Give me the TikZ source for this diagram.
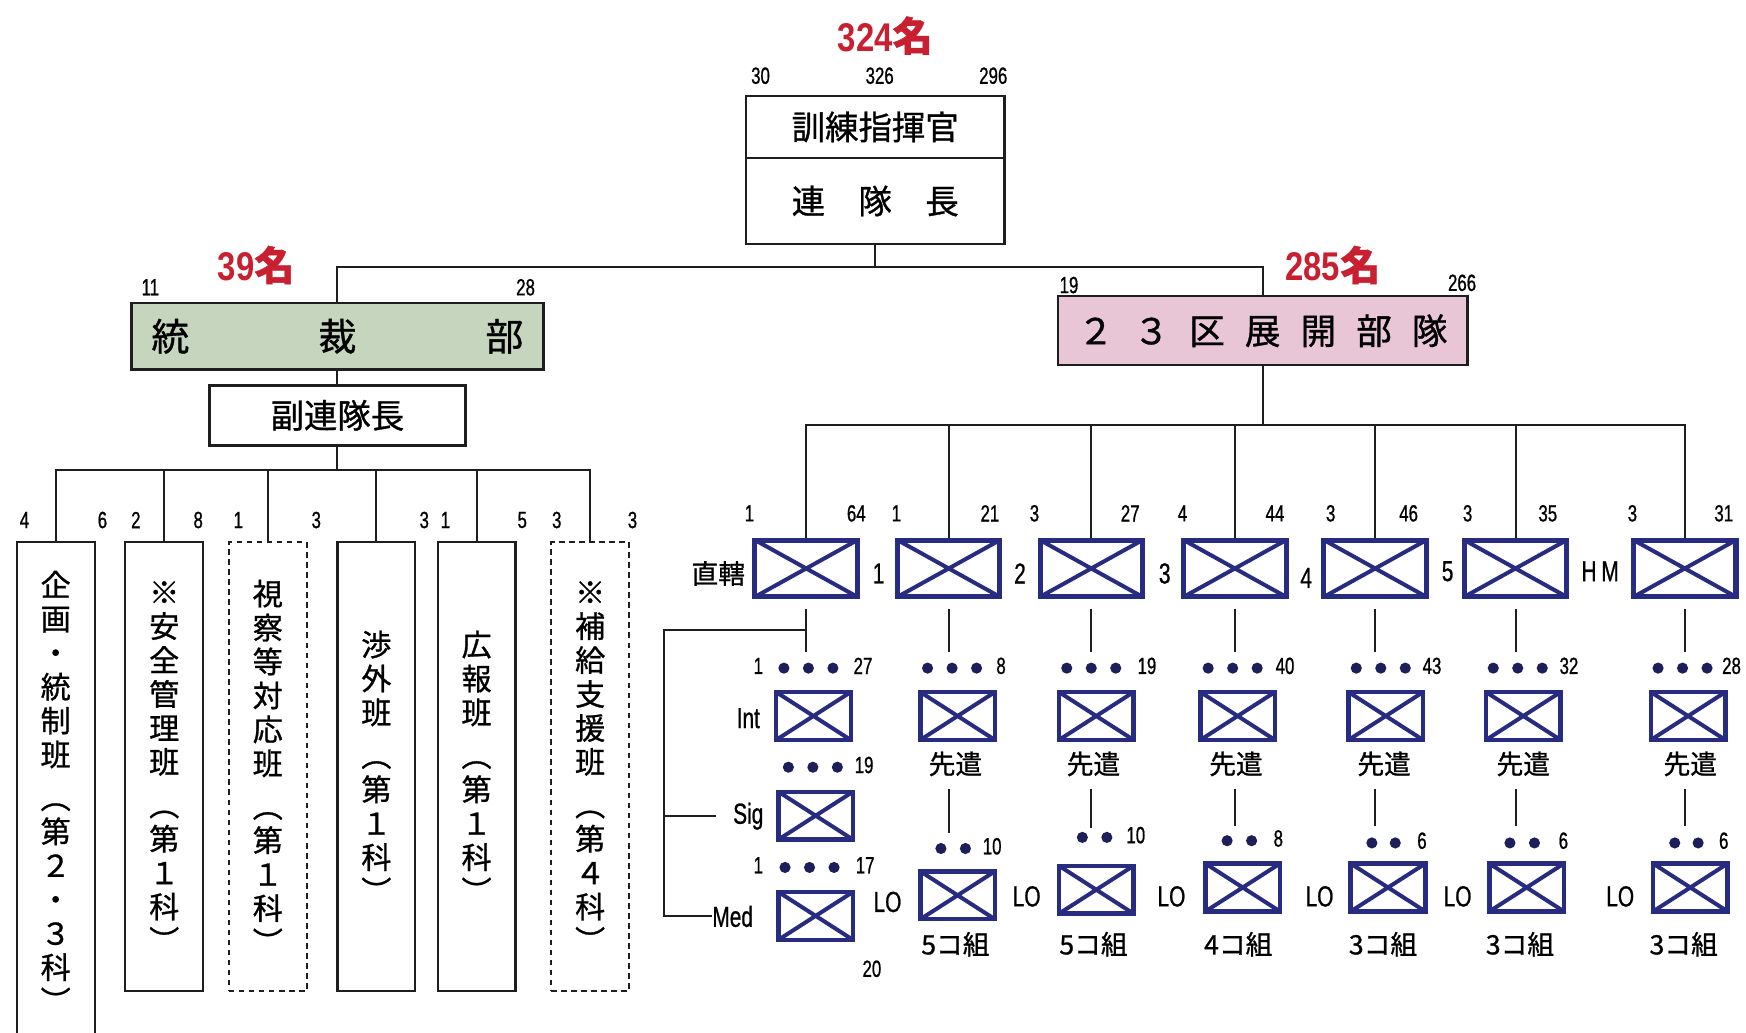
\documentclass[tikz,border=0pt]{standalone}
\usepackage{fontspec}
\setmainfont{Noto Sans CJK JP}[FakeBold=0.9]
\newfontfamily\NumFont[FakeStretch=0.72,FakeBold=0.8]{Liberation Sans}
\newfontfamily\CntFont[FakeStretch=0.82]{Liberation Sans}
\usepackage{tikz}
\usetikzlibrary{positioning}
\usepackage{xcolor}
\definecolor{ColRed}{RGB}{200,32,48}
\definecolor{ColUnit}{RGB}{40,44,128}
\definecolor{ColGreen}{RGB}{198,214,190}
\definecolor{ColPink}{RGB}{232,198,214}
\definecolor{ColLine}{RGB}{30,30,30}
\tikzstyle{BoxOrg}=[draw=ColLine,line width=2.2pt,inner sep=0pt,font=\fontsize{30}{30}\selectfont]
\tikzstyle{BoxSec}=[draw=ColLine,line width=2pt,inner sep=0pt,minimum width=70pt,
minimum height=403pt,align=center,font=\fontsize{27}{30.5}\selectfont]
\tikzstyle{BoxSecDash}=[BoxSec,line width=1.6pt,dash pattern=on 5pt off 4pt]
\tikzstyle{BoxUnit}=[draw=ColUnit,line width=4.5pt,minimum width=92pt,minimum height=51pt,inner sep=0pt,
path picture={\draw[ColUnit,line width=3.6pt](path picture bounding box.north west)--(path picture bounding box.south east)
(path picture bounding box.south west)--(path picture bounding box.north east);}]
\tikzstyle{BoxSub}=[BoxUnit,line width=4pt,minimum width=67pt,minimum height=43pt]
\tikzstyle{LineOrg}=[ColLine,line width=1.8pt]
\tikzstyle{LblCnt}=[text=ColRed,inner sep=0pt,font=\bfseries\fontsize{36}{36}\selectfont]
\tikzstyle{LblNum}=[inner sep=0pt,font=\NumFont\fontsize{21}{21}\selectfont]
\tikzstyle{LblUnit}=[inner sep=0pt,font=\NumFont\fontsize{26}{26}\selectfont]
\tikzstyle{LblJp}=[inner sep=0pt,font=\fontsize{24}{24}\selectfont]
\tikzstyle{DotUnit}=[ColUnit!70!black]

\begin{document}
\begin{tikzpicture}[x=1pt,y=-1pt]
    \useasboundingbox (0,0) rectangle (1568,927);
    % top
    \node[LblCnt](cAll)at(795,32){{\CntFont 324}名};
    \node[LblNum](nA1)at(683,68){30};
    \node[LblNum](nA2)at(790,68){326};
    \node[LblNum](nA3)at(892,68){296};
    \node[BoxOrg,minimum width=232pt,minimum height=56pt](cmd)at(786,114){訓練指揮官};
    \node[BoxOrg,minimum width=232pt,minimum height=77pt](reg)at(786,180.5){連　隊　長};
    \coordinate(jTop)at(786,240);
    % left branch
    \node[LblCnt](cL)at(230,238){{\CntFont 39}名};
    \node[LblNum](nB1)at(135,258){11};
    \node[LblNum](nB2)at(472,258){28};
    \node[BoxOrg,fill=ColGreen,minimum width=370pt,minimum height=60pt,font=\fontsize{34}{34}\selectfont](toubu)at(303,302){統\hspace{116pt}裁\hspace{116pt}部};
    \node[BoxOrg,minimum width=230pt,minimum height=54pt](fuku)at(303,373){副連隊長};
    \coordinate(jL)at(303,422);
    \node[BoxSec,minimum height=448pt](k1)at(50,711){企\\画\\・\\統\\制\\班\\[8pt]︵\\第\\２\\・\\３\\科\\︶};
    \node[BoxSec](k2)at(147.5,688.5){※\\安\\全\\管\\理\\班\\[8pt]︵\\第\\１\\科\\︶};
    \node[BoxSecDash](k3)at(240.5,688.5){視\\察\\等\\対\\応\\班\\[8pt]︵\\第\\１\\科\\︶};
    \node[BoxSec](k4)at(338,688.5){渉\\外\\班\\[8pt]︵\\第\\１\\科\\︶};
    \node[BoxSec](k5)at(428,688.5){広\\報\\班\\[8pt]︵\\第\\１\\科\\︶};
    \node[BoxSecDash](k6)at(530,688.5){※\\補\\給\\支\\援\\班\\[8pt]︵\\第\\４\\科\\︶};
    \node[LblNum](nK1a)at(22,467){4};
    \node[LblNum](nK1b)at(92,467){6};
    \node[LblNum](nK2a)at(122,467){2};
    \node[LblNum](nK2b)at(178,467){8};
    \node[LblNum](nK3a)at(214,467){1};
    \node[LblNum](nK3b)at(284,467){3};
    \node[LblNum](nK4b)at(381,467){3};
    \node[LblNum](nK5a)at(400,467){1};
    \node[LblNum](nK5b)at(469,467){5};
    \node[LblNum](nK6a)at(500,467){3};
    \node[LblNum](nK6b)at(568,467){3};
    % right branch
    \node[LblCnt](cR)at(1197,238){{\CntFont 285}名};
    \node[LblNum](nC1)at(960,256){19};
    \node[LblNum](nC2)at(1313,254){266};
    \node[BoxOrg,fill=ColPink,minimum width=368pt,minimum height=62pt,font=\fontsize{32}{32}\selectfont](tenkai)at(1134,297){２\hspace{18pt}３\hspace{18pt}区\hspace{18pt}展\hspace{18pt}開\hspace{18pt}部\hspace{18pt}隊};
    \coordinate(jR)at(1134,382);
    % units
    \node[BoxUnit](u0)at(724,510.5){};
    \node[BoxUnit](u1)at(852,510.5){};
    \node[BoxUnit](u2)at(980,510.5){};
    \node[BoxUnit](u3)at(1109,510.5){};
    \node[BoxUnit](u4)at(1235,510.5){};
    \node[BoxUnit](u5)at(1361,510.5){};
    \node[BoxUnit](u6)at(1513,510.5){};
    \node[LblJp](lU0)at(645,515){直轄};
    \node[LblUnit](lU1)at(789,515){1};
    \node[LblUnit](lU2)at(916,515){2};
    \node[LblUnit](lU3)at(1046,515){3};
    \node[LblUnit](lU4)at(1173,519){4};
    \node[LblUnit](lU5)at(1300,513){5};
    \node[LblUnit](lU6)at(1437,513){H\,M};
    \node[LblNum](nU0a)at(673,461){1};
    \node[LblNum](nU0b)at(769,461){64};
    \node[LblNum](nU1a)at(805,461){1};
    \node[LblNum](nU1b)at(889,461){21};
    \node[LblNum](nU2a)at(929,461){3};
    \node[LblNum](nU2b)at(1015,461){27};
    \node[LblNum](nU3a)at(1062,461){4};
    \node[LblNum](nU3b)at(1145,461){44};
    \node[LblNum](nU4a)at(1195,461){3};
    \node[LblNum](nU4b)at(1265,461){46};
    \node[LblNum](nU5a)at(1318,461){3};
    \node[LblNum](nU5b)at(1390,461){35};
    \node[LblNum](nU6a)at(1466,461){3};
    \node[LblNum](nU6b)at(1548,461){31};
    % sub units
    \node[BoxSub](sInt)at(730.5,643){};
    \node[BoxSub](sSig)at(732.5,732.5){};
    \node[BoxSub](sMed)at(732.5,822.5){};
    \node[BoxSub](s1)at(860,643){};
    \node[BoxSub](s2)at(984.5,643){};
    \node[BoxSub](s3)at(1111.5,643){};
    \node[BoxSub](s4)at(1244.5,643){};
    \node[BoxSub](s5)at(1368,643){};
    \node[BoxSub](s6)at(1516,643){};
    \node[LblUnit](lInt)at(672,645){Int};
    \node[LblUnit](lSig)at(672,733){Sig};
    \node[LblUnit](lMed)at(658,823){Med};
    \node[LblNum](nInt)at(681,598){1};
    \node[LblNum](nMed)at(681,777){1};
    \node[LblNum](nMed2)at(783,870){20};
    \foreach \x/\y/\n/\v in {775/598/nS0/27,776/687/nS7/19,777/777/nS8/17,899/598/nS1/8,1030/598/nS2/19,
        1154/598/nS3/40,1286/598/nS4/43,1409/598/nS5/32,1555/598/nS6/28}
        \node[LblNum](\n)at(\x,\y){\v};
    \foreach \x/\y in {704/600,726/600,748/600,708/689,730/689,752/689,705/779,727/779,749/779,
        833/600,855/600,877/600,958/600,980/600,1002/600,1085/600,1107/600,1129/600,
        1218/600,1240/600,1262/600,1341/600,1363/600,1385/600,1489/600,1511/600,1533/600}
        \fill[DotUnit](\x,\y)circle(5pt);
    \node[LblJp](lS1)at(858,686){先遣};
    \node[LblJp](lS2)at(982,686){先遣};
    \node[LblJp](lS3)at(1110,686){先遣};
    \node[LblJp](lS4)at(1243,686){先遣};
    \node[LblJp](lS5)at(1368,686){先遣};
    \node[LblJp](lS6)at(1518,686){先遣};
    % liaison
    \node[BoxSub](b1)at(860,804){};
    \node[BoxSub](b2)at(984.5,799){};
    \node[BoxSub](b3)at(1116,797){};
    \node[BoxSub](b4)at(1246.5,797){};
    \node[BoxSub](b5)at(1371,797){};
    \node[BoxSub](b6)at(1518,797){};
    \node[LblUnit](lB1)at(797,810){LO};
    \node[LblUnit](lB2)at(922,805){LO};
    \node[LblUnit](lB3)at(1052,805){LO};
    \node[LblUnit](lB4)at(1185,805){LO};
    \node[LblUnit](lB5)at(1309,805){LO};
    \node[LblUnit](lB6)at(1455,805){LO};
    \node[LblJp](gB1)at(858,848){5コ組};
    \node[LblJp](gB2)at(982,848){5コ組};
    \node[LblJp](gB3)at(1112,848){4コ組};
    \node[LblJp](gB4)at(1242,848){3コ組};
    \node[LblJp](gB5)at(1365,848){3コ組};
    \node[LblJp](gB6)at(1512,848){3コ組};
    \foreach \x/\y/\n/\v in {891/760/nB1/10,1020/750/nB2/10,1148/753/nB3/8,1277/755/nB4/6,1404/755/nB5/6,1548/755/nB6/6}
        \node[LblNum](\n)at(\x,\y){\v};
    \foreach \x/\y in {845/762,867/762,972/752,994/752,1102/755,1124/755,1232/757,1253/757,1356/757,1378/757,1504/757,1525/757}
        \fill[DotUnit](\x,\y)circle(5pt);
    % connectors
    \draw[LineOrg](reg.south)--(jTop);
    \draw[LineOrg](toubu.north)|-(jTop)-|(tenkai.north);
    \draw[LineOrg](toubu.south)--(fuku.north);
    \draw[LineOrg](fuku.south)--(jL);
    \draw[LineOrg](k1.north)|-(jL)-|(k6.north);
    \draw[LineOrg](k2.north)--(k2.north|-jL);
    \draw[LineOrg](k3.north)--(k3.north|-jL);
    \draw[LineOrg](k4.north)--(k4.north|-jL);
    \draw[LineOrg](k5.north)--(k5.north|-jL);
    \draw[LineOrg](tenkai.south)--(jR);
    \draw[LineOrg](u0.north)|-(jR)-|(u6.north);
    \draw[LineOrg](u1.north)--(u1.north|-jR);
    \draw[LineOrg](u2.north)--(u2.north|-jR);
    \draw[LineOrg](u3.north)--(u3.north|-jR);
    \draw[LineOrg](u4.north)--(u4.north|-jR);
    \draw[LineOrg](u5.north)--(u5.north|-jR);
    \draw[LineOrg,shorten <=9pt,shorten >=34pt](u0.south)--(u0.south|-sInt.north);
    \draw[LineOrg,shorten <=9pt,shorten >=34pt](u1.south)--(u1.south|-s1.north);
    \draw[LineOrg,shorten <=9pt,shorten >=34pt](u2.south)--(u2.south|-s2.north);
    \draw[LineOrg,shorten <=9pt,shorten >=34pt](u3.south)--(u3.south|-s3.north);
    \draw[LineOrg,shorten <=9pt,shorten >=34pt](u4.south)--(u4.south|-s4.north);
    \draw[LineOrg,shorten <=9pt,shorten >=34pt](u5.south)--(u5.south|-s5.north);
    \draw[LineOrg,shorten <=9pt,shorten >=34pt](u6.south)--(u6.south|-s6.north);
    \draw[LineOrg,shorten <=42pt,shorten >=32pt](u1.south|-s1.south)--(u1.south|-b1.north);
    \draw[LineOrg,shorten <=42pt,shorten >=32pt](u2.south|-s2.south)--(u2.south|-b2.north);
    \draw[LineOrg,shorten <=42pt,shorten >=32pt](u3.south|-s3.south)--(u3.south|-b3.north);
    \draw[LineOrg,shorten <=42pt,shorten >=32pt](u4.south|-s4.south)--(u4.south|-b4.north);
    \draw[LineOrg,shorten <=42pt,shorten >=32pt](u5.south|-s5.south)--(u5.south|-b5.north);
    \draw[LineOrg,shorten <=42pt,shorten >=32pt](u6.south|-s6.south)--(u6.south|-b6.north);
    \coordinate(jHq)at(724,566);
    \coordinate(jHqL)at(596,566);
    \draw[LineOrg](jHq)--(jHqL)|-(lMed.west);
    \draw[LineOrg,shorten >=15pt](jHqL|-lSig.west)--(lSig.west);
\end{tikzpicture}
\end{document}
